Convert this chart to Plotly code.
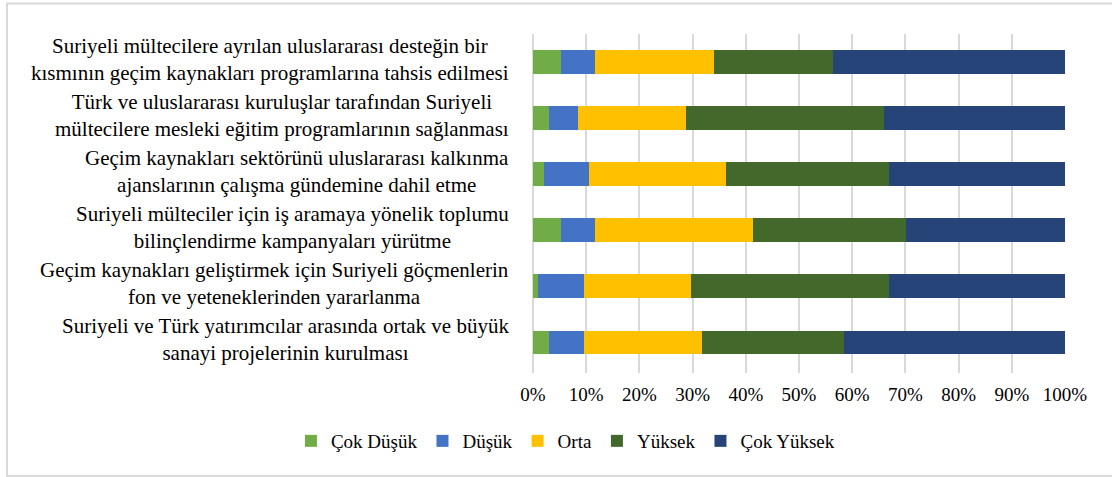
import plotly.graph_objects as go

categories = [
    "Suriyeli mültecilere ayrılan uluslararası desteğin bir<br>kısmının geçim kaynakları programlarına tahsis edilmesi",
    "Türk ve uluslararası kuruluşlar tarafından Suriyeli<br>mültecilere mesleki eğitim programlarının sağlanması",
    "Geçim kaynakları sektörünü uluslararası kalkınma<br>ajanslarının çalışma gündemine dahil etme",
    "Suriyeli mülteciler için iş aramaya yönelik toplumu<br>bilinçlendirme kampanyaları yürütme",
    "Geçim kaynakları geliştirmek için Suriyeli göçmenlerin<br>fon ve yeteneklerinden yararlanma",
    "Suriyeli ve Türk yatırımcılar arasında ortak ve büyük<br>sanayi projelerinin kurulması",
]

series_names = ["Çok Düşük", "Düşük", "Orta", "Yüksek", "Çok Yüksek"]
cok_dusuk = [5.3, 3.1, 2.0, 5.3, 0.9, 3.1]
dusuk = [6.3, 5.3, 8.5, 6.3, 8.6, 6.4]
orta = [22.4, 20.3, 25.7, 29.8, 20.2, 22.3]
yuksek = [22.4, 37.2, 30.8, 28.8, 37.3, 26.7]
cok_yuksek = [43.6, 34.1, 33.0, 29.8, 33.0, 41.5]
series_values = [cok_dusuk, dusuk, orta, yuksek, cok_yuksek]

tick_values = list(range(0, 101, 10))
tick_labels = [f"{v}%" for v in tick_values]

colors = ["#70AD47", "#4472C4", "#FFC000", "#43682B", "#264478"]
FONT = "Liberation Serif, Times New Roman, serif"

fig = go.Figure()
for name, vals, col in zip(series_names, series_values, colors):
    fig.add_trace(go.Bar(
        y=categories, x=vals, name=name, orientation="h",
        marker=dict(color=col, line=dict(width=0)),
    ))

for cat in categories:
    fig.add_annotation(
        x=0, y=cat, xref="paper", yref="y", xanchor="right", yanchor="middle",
        xshift=-22, yshift=3, text=cat, showarrow=False, align="center",
        font=dict(family=FONT, size=21, color="#000000"),
    )

# chart area border (decoration)
fig.add_shape(type="rect", xref="paper", yref="paper",
              x0=-0.9887, x1=1.2, y0=-0.304, y1=1.09,
              line=dict(color="#d9d9d9", width=2), layer="below")

fig.update_layout(
    width=1112, height=477,
    barmode="stack", bargap=0.575,
    paper_bgcolor="white", plot_bgcolor="white",
    margin=dict(l=533, r=47, t=34, b=104),
    font=dict(family=FONT, size=19, color="#000000"),
    showlegend=True,
    legend=dict(orientation="h", x=-0.455, xanchor="left", y=-0.2006, yanchor="middle",
                font=dict(family=FONT, size=19, color="#000000"),
                traceorder="normal", itemwidth=30),
    xaxis=dict(range=[0, 100], tickvals=tick_values, ticktext=tick_labels,
               showgrid=True, gridcolor="#d9d9d9", gridwidth=1.5,
               zeroline=True, zerolinecolor="#d9d9d9", zerolinewidth=1.5,
               showline=False, ticks="", ticklabelstandoff=8,
               tickfont=dict(family=FONT, size=19, color="#000000")),
    yaxis=dict(categoryorder="array", categoryarray=categories, autorange="reversed",
               showticklabels=False, showgrid=False, zeroline=False, showline=False),
)

fig.write_html("out.html", config={"displayModeBar": False},
               post_script="document.body.style.margin='0';")
